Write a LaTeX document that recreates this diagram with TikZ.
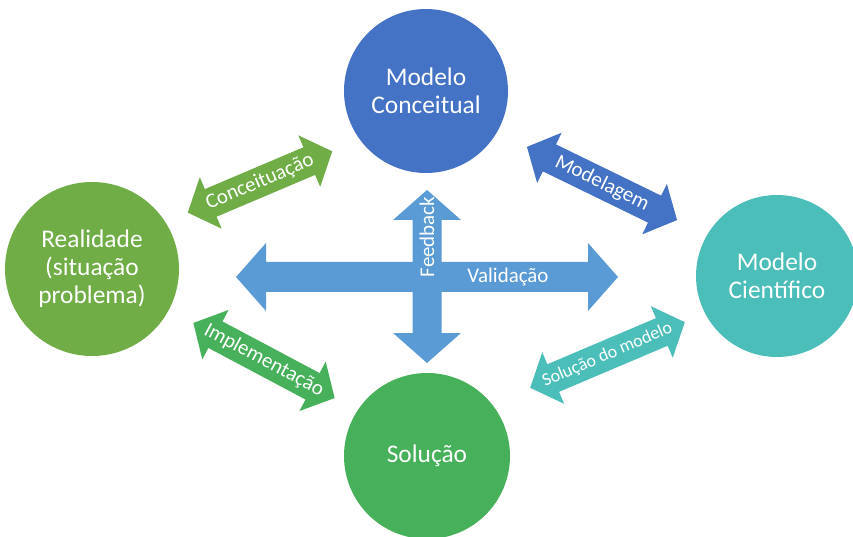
\documentclass[tikz,border=0pt]{standalone}
\usepackage{fontspec}
\setmainfont{Carlito}

% Two-headed block arrow: [label options], name, centre, angle, length, colour, label
\newcommand\linkarrow[7][]{%
  \begin{scope}[shift={#3},rotate=#4]
    \fill[#6] ({-#5/2},0) -- ({-#5/2+25},-28) -- ({-#5/2+25},-15)
      -- ({#5/2-25},-15) -- ({#5/2-25},-28) -- ({#5/2},0)
      -- ({#5/2-25},28) -- ({#5/2-25},15) -- ({-#5/2+25},15)
      -- ({-#5/2+25},28) -- cycle;
    \node[flowlabel,#1] (#2) at (0,0) {#7};
  \end{scope}}

\begin{document}
\begin{tikzpicture}[x=1bp,y=-1bp]
  \definecolor{cblue}{HTML}{4472C4}
  \definecolor{cgreen}{HTML}{70AD47}
  \definecolor{cmint}{HTML}{46B05A}
  \definecolor{cteal}{HTML}{4BBEB9}
  \definecolor{csky}{HTML}{5B9BD5}
  \tikzset{
    phase/.style={circle, inner sep=0pt, text=white, align=center,
      font=\fontsize{25.5}{28}\selectfont},
    flowlabel/.style={text=white, inner sep=0pt, transform shape,
      font=\fontsize{21}{23}\selectfont},
    smalllabel/.style={font=\fontsize{18}{20}\selectfont},
    crosslabel/.style={text=white, inner sep=0pt,
      font=\fontsize{21}{23}\selectfont},
  }
  \useasboundingbox (0,0) rectangle (853,537);

  % the four stages
  \node[phase, fill=cblue, minimum size=164bp] (conc) at (426,91)
    {Modelo\\Conceitual};
  \node[phase, fill=cgreen, minimum size=174bp] (real) at (92,269)
    {Realidade\\(situação\\problema)};
  \node[phase, fill=cteal, minimum size=162bp] (cien) at (777,276)
    {Modelo\\Científico};
  \node[phase, fill=cmint, minimum size=166bp] (sol) at (427,456)
    {Solução};

  % central cross: validation (horizontal) and feedback (vertical)
  \fill[csky] (236,277) -- (266,243) -- (266,262) -- (412.5,262)
    -- (412.5,220) -- (393,220) -- (427,190) -- (461,220) -- (441.5,220)
    -- (441.5,262) -- (588,262) -- (588,243) -- (618,277) -- (588,311)
    -- (588,292) -- (441.5,292) -- (441.5,333) -- (461,333) -- (427,363)
    -- (393,333) -- (412.5,333) -- (412.5,292) -- (266,292) -- (266,311)
    -- cycle;
  \node[crosslabel, rotate=90] (feed) at (427,237) {Feedback};
  \node[crosslabel] (valid) at (508,277) {Validação};

  % links between neighbouring stages
  \linkarrow{lconc}{(260,182)}{23}{157}{cgreen}{Conceituação}
  \linkarrow{lmod}{(602,183.5)}{-26}{167}{cblue}{Modelagem}
  \linkarrow{limp}{(264,360.5)}{-28}{160}{cmint}{Implementação}
  \linkarrow[smalllabel]{lsol}{(607.5,355)}{23}{168}{cteal}{Solução do modelo}
\end{tikzpicture}
\end{document}
